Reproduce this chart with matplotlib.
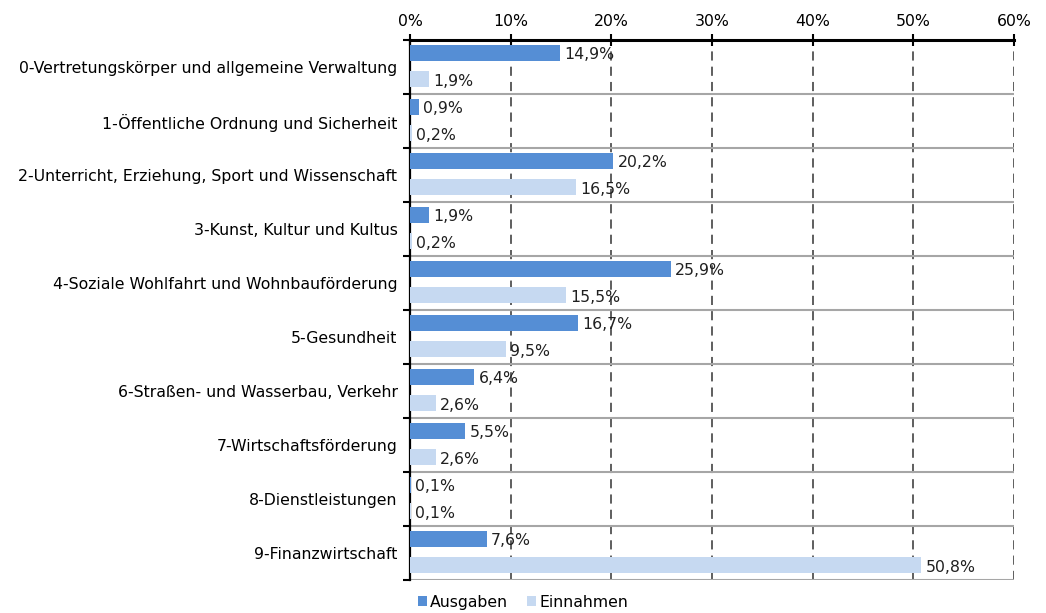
import matplotlib
matplotlib.use("Agg")
import matplotlib.pyplot as plt
import numpy as np

plt.rcParams["font.family"] = ["DejaVu Sans"]

categories = [
    "0-Vertretungskörper und allgemeine Verwaltung",
    "1-Öffentliche Ordnung und Sicherheit",
    "2-Unterricht, Erziehung, Sport und Wissenschaft",
    "3-Kunst, Kultur und Kultus",
    "4-Soziale Wohlfahrt und Wohnbauförderung",
    "5-Gesundheit",
    "6-Straßen- und Wasserbau, Verkehr",
    "7-Wirtschaftsförderung",
    "8-Dienstleistungen",
    "9-Finanzwirtschaft",
]
ausgaben = [14.9, 0.9, 20.2, 1.9, 25.9, 16.7, 6.4, 5.5, 0.1, 7.6]
einnahmen = [1.9, 0.2, 16.5, 0.2, 15.5, 9.5, 2.6, 2.6, 0.1, 50.8]
xticks = [0, 10, 20, 30, 40, 50, 60]

c_aus = "#558ED5"
c_ein = "#C6D9F1"

fig = plt.figure(figsize=(10.46, 6.13), dpi=100)
ax = fig.add_axes([410/1046, 1-580/613, (1014-410)/1046, (580-40)/613])

n = len(categories)
idx = np.arange(n)
h = 0.30
ya = idx + 0.245
ye = idx + 0.725
ax.barh(ya, ausgaben, height=h, color=c_aus, label="Ausgaben", zorder=3)
ax.barh(ye, einnahmen, height=h, color=c_ein, label="Einnahmen", zorder=3)

fs = 11.3
def fmt(v):
    return f"{v:.1f}".replace(".", ",") + "%"
for y, v in zip(ya, ausgaben):
    ax.annotate(fmt(v), (v, y), xytext=(3, -1), textcoords="offset points",
                va="center", ha="left", fontsize=fs, color="#202020", zorder=4)
for y, v in zip(ye, einnahmen):
    ax.annotate(fmt(v), (v, y), xytext=(3, -2), textcoords="offset points",
                va="center", ha="left", fontsize=fs, color="#202020", zorder=4)

ax.set_xlim(0, 60)
ax.set_ylim(n, 0)
ax.set_xticks(xticks)
ax.set_xticklabels([f"{t}%" for t in xticks], fontsize=fs)
ax.xaxis.tick_top()
ax.tick_params(axis="x", direction="inout", length=8, width=1.5, pad=4)
for x in xticks[1:]:
    ax.axvline(x, color="#333333", lw=1.1, ls=(0, (6, 4)), zorder=1)
for i in range(1, n + 1):
    ax.axhline(i, color="#A6A6A6", lw=1.5, zorder=2)

ax.set_yticks(np.arange(n + 1))
ax.set_yticklabels([])
ax.set_yticks(idx + 0.5, minor=True)
ax.set_yticklabels(categories, minor=True, fontsize=fs)
ax.tick_params(axis="y", which="minor", length=0, pad=9)
ax.tick_params(axis="y", which="major", length=5, width=1.5, direction="out")

ax.spines["top"].set_linewidth(2.2)
ax.spines["left"].set_linewidth(1.6)
ax.spines["right"].set_visible(False)
ax.spines["bottom"].set_visible(False)

leg = fig.legend(loc="lower center", bbox_to_anchor=(0.5, -0.018), ncol=2,
                 frameon=False, fontsize=fs, handlelength=0.6, handleheight=0.6,
                 handletextpad=0.2, columnspacing=1.2)

fig.savefig("out.png", dpi=100)
